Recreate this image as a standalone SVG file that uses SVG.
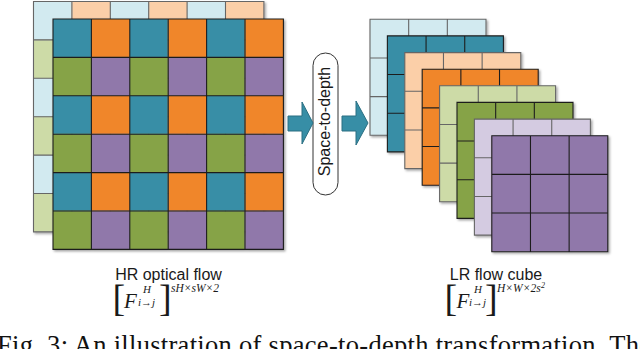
<svg xmlns="http://www.w3.org/2000/svg" xmlns:xlink="http://www.w3.org/1999/xlink" width="640" height="349" viewBox="0 0 640 349">
<style>
.teal{fill:#378EA6}.orange{fill:#F0862A}.green{fill:#86A346}.purple{fill:#9078AA}
.lblue{fill:#D2EAF0}.peach{fill:#FBCFA8}.lgreen{fill:#CDDBA7}.lav{fill:#D4CBE1}
.ldark{stroke:#1e1e1e;stroke-width:1.1;fill:none}
.llight{stroke:#666;stroke-width:1.1;fill:none}
.shadow{filter:url(#ds)}
.lbl{font-family:"Liberation Sans",Arial,sans-serif;font-size:16px;fill:#1a1a1a}
.m{font-family:"Liberation Serif","Times New Roman",serif;font-style:italic;fill:#1a1a1a}
.br{font-family:"Liberation Serif","Times New Roman",serif;font-size:38px;fill:#1a1a1a}
.arrow{fill:#378EA6;stroke:#2B6F82;stroke-width:1}
.op{fill:#fff;stroke:#333;stroke-width:1}
.cap{font-family:"Liberation Serif","Times New Roman",serif;font-size:26.5px;fill:#111}
</style>
<defs>
<filter id="ds" x="-10%" y="-10%" width="130%" height="130%">
<feDropShadow dx="1.5" dy="1.5" stdDeviation="0.8" flood-color="#000" flood-opacity="0.35"/>
</filter>
<pattern id="chk" patternUnits="userSpaceOnUse" x="53" y="19" width="76.8" height="76.8">
<rect class="teal" x="0" y="0" width="38.4" height="38.4"/>
<rect class="orange" x="38.4" y="0" width="38.4" height="38.4"/>
<rect class="green" x="0" y="38.4" width="38.4" height="38.4"/>
<rect class="purple" x="38.4" y="38.4" width="38.4" height="38.4"/>
</pattern>
<pattern id="chkl" patternUnits="userSpaceOnUse" x="33.5" y="1.5" width="76.8" height="76.8">
<rect class="lblue" x="0" y="0" width="38.4" height="38.4"/>
<rect class="peach" x="38.4" y="0" width="38.4" height="38.4"/>
<rect class="lgreen" x="0" y="38.4" width="38.4" height="38.4"/>
<rect class="lav" x="38.4" y="38.4" width="38.4" height="38.4"/>
</pattern>
<path id="g6" d="M0,0H230.4V230.4H0Z M38.4,0V230.4 M76.8,0V230.4 M115.2,0V230.4 M153.6,0V230.4 M192,0V230.4 M0,38.4H230.4 M0,76.8H230.4 M0,115.2H230.4 M0,153.6H230.4 M0,192H230.4"/>
<path id="g3" d="M0,0H116V116H0Z M38.67,0V116 M77.33,0V116 M0,38.67H116 M0,77.33H116"/>
</defs>
<rect width="640" height="349" fill="#fff"/>

<g id="hr-optical-flow">
<g class="shadow"><rect x="33.5" y="1.5" width="230.4" height="230.4" fill="url(#chkl)"/><use xlink:href="#g6" x="33.5" y="1.5" class="llight"/></g>
<g class="shadow"><rect x="53" y="19" width="230.4" height="230.4" fill="url(#chk)"/><use xlink:href="#g6" x="53" y="19" class="ldark"/></g>
<text class="lbl" x="168.5" y="280" text-anchor="middle">HR optical flow</text>
<text class="br" x="112.5" y="311">[</text>
<text class="m" x="124" y="308" font-size="21">F</text>
<text class="m" x="143" y="292.5" font-size="11">H</text>
<text class="m" x="138" y="306" font-size="11">i→j</text>
<text class="br" x="159" y="311">]</text>
<text class="m" x="171" y="292" font-size="11.5">sH×sW×2</text>
</g>

<g id="space-to-depth">
<rect class="op" x="313" y="53" width="25" height="142" rx="12.5" ry="12.5"/>
<text class="lbl" font-size="16.5" transform="translate(330,121.5) rotate(-90)" text-anchor="middle">Space-to-depth</text>
</g>

<g id="lr-flow-cube">
<g class="shadow"><rect class="lblue" x="370" y="19.3" width="116" height="116"/><use xlink:href="#g3" x="370" y="19.3" class="llight"/></g>
<g class="shadow"><rect class="teal" x="387.4" y="35.9" width="116" height="116"/><use xlink:href="#g3" x="387.4" y="35.9" class="ldark"/></g>
<g class="shadow"><rect class="peach" x="404.8" y="52.6" width="116" height="116"/><use xlink:href="#g3" x="404.8" y="52.6" class="llight"/></g>
<g class="shadow"><rect class="orange" x="422.2" y="69.2" width="116" height="116"/><use xlink:href="#g3" x="422.2" y="69.2" class="ldark"/></g>
<g class="shadow"><rect class="lgreen" x="439.6" y="85.8" width="116" height="116"/><use xlink:href="#g3" x="439.6" y="85.8" class="llight"/></g>
<g class="shadow"><rect class="green" x="457" y="102.4" width="116" height="116"/><use xlink:href="#g3" x="457" y="102.4" class="ldark"/></g>
<g class="shadow"><rect class="lav" x="474.4" y="119.1" width="116" height="116"/><use xlink:href="#g3" x="474.4" y="119.1" class="llight"/></g>
<g class="shadow"><rect class="purple" x="491.8" y="135.7" width="116" height="116"/><use xlink:href="#g3" x="491.8" y="135.7" class="ldark"/></g>
<text class="lbl" x="496" y="280" text-anchor="middle">LR flow cube</text>
<text class="br" x="444.5" y="311">[</text>
<text class="m" x="456.5" y="308" font-size="21">F</text>
<text class="m" x="474" y="292.5" font-size="11">H</text>
<text class="m" x="469" y="306" font-size="11">i→j</text>
<text class="br" x="485" y="311">]</text>
<text class="m" x="497" y="292" font-size="11.5">H×W×2s</text>
<text class="m" x="541" y="287.5" font-size="8">2</text>
</g>

<g id="connectors">
<polygon class="arrow" points="288,116 302,116 302,102 313,123 302,144 302,131 288,131"/>
<polygon class="arrow" points="342,116 356,116 356,101 368,123 356,145 356,131 342,131"/>
</g>

<text class="cap" x="-3" y="354" textLength="654" lengthAdjust="spacing">Fig. 3: An illustration of space-to-depth transformation. The</text>
</svg>
